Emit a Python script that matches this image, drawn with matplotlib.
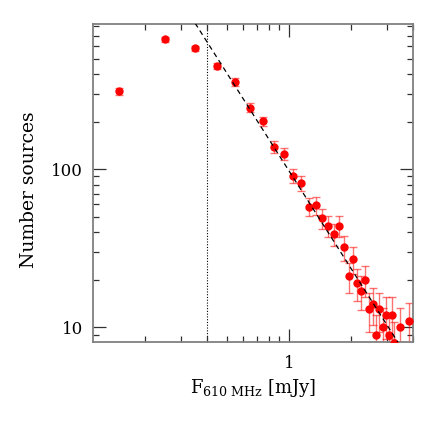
import numpy as np
import matplotlib.pyplot as plt

# binned source counts, 0.1 mJy bins
flux = [0.15, 0.25, 0.35, 0.45, 0.55, 0.65, 0.75, 0.85, 0.95, 1.05,
        1.15, 1.25, 1.35, 1.45, 1.55, 1.65, 1.75, 1.85, 1.95, 2.05,
        2.15, 2.25, 2.35, 2.45, 2.55, 2.65, 2.75, 2.85, 2.95, 3.05,
        3.15, 3.25, 3.45, 3.85]
counts = [310, 662, 581, 451, 357, 245, 201, 139, 125, 91,
          82, 58, 59, 49, 44, 39, 44, 32, 21, 27,
          19, 17, 20, 13, 14, 9, 13, 10, 12, 9,
          12, 8, 10, 11]
errs = [17.6, 25.7, 24.1, 21.2, 18.9, 15.7, 14.2, 11.8, 11.2, 9.5,
        9.1, 7.6, 7.7, 7.0, 6.6, 6.2, 6.6, 5.7, 4.6, 5.2,
        4.4, 4.1, 4.5, 3.6, 3.7, 3.0, 3.6, 3.2, 3.5, 3.0,
        3.5, 2.8, 3.2, 3.3]

# power-law fit and completeness limit
fit_norm = 98.0
fit_slope = -2.05
fit_range = [0.3, 4.0]
flux_limit = 0.4

plt.rcParams['font.family'] = ['DejaVu Serif']
plt.rcParams['mathtext.fontset'] = 'dejavuserif'

fig = plt.figure(figsize=(4.36, 4.36), dpi=100)
ax = fig.add_axes([0.213, 0.215, 0.734, 0.730])

ax.errorbar(flux, counts, yerr=errs, fmt='none', ecolor='red', alpha=0.55,
            elinewidth=1.0, capsize=3, capthick=1.0, zorder=2)
ax.plot(flux, counts, 'o', color='red', ms=5, zorder=3)

fx = np.array(fit_range)
ax.plot(fx, fit_norm * fx ** fit_slope, color='black', lw=0.9,
        linestyle=(0, (4, 3)), zorder=4)
ax.axvline(flux_limit, color='black', lw=0.8, linestyle=(0, (1, 1.5)), zorder=1)

ax.set_xscale('log')
ax.set_yscale('log')
ax.set_xlim(0.112, 4.0)
ax.set_ylim(8.05, 828)

ax.set_xticks([1])
ax.set_xticklabels(['1'])
ax.set_yticks([10, 100])
ax.set_yticklabels(['10', '100'])

for sp in ax.spines.values():
    sp.set_color('#808080')
    sp.set_linewidth(1.3)

ax.tick_params(which='both', direction='in', top=True, right=True,
               color='#303030', labelsize=12)
ax.tick_params(which='major', length=9.5, width=0.9)
ax.tick_params(which='minor', length=4.5, width=0.9)
ax.tick_params(axis='x', which='major', pad=9)
ax.tick_params(axis='y', which='major', pad=7)

ax.set_xlabel(r'F$_{\rm 610\ MHz}$ [mJy]', fontsize=13, labelpad=4)
ax.set_ylabel('Number sources', fontsize=13.5)
ax.yaxis.set_label_coords(-0.17, 0.48)

fig.savefig('out.png', dpi=100)
